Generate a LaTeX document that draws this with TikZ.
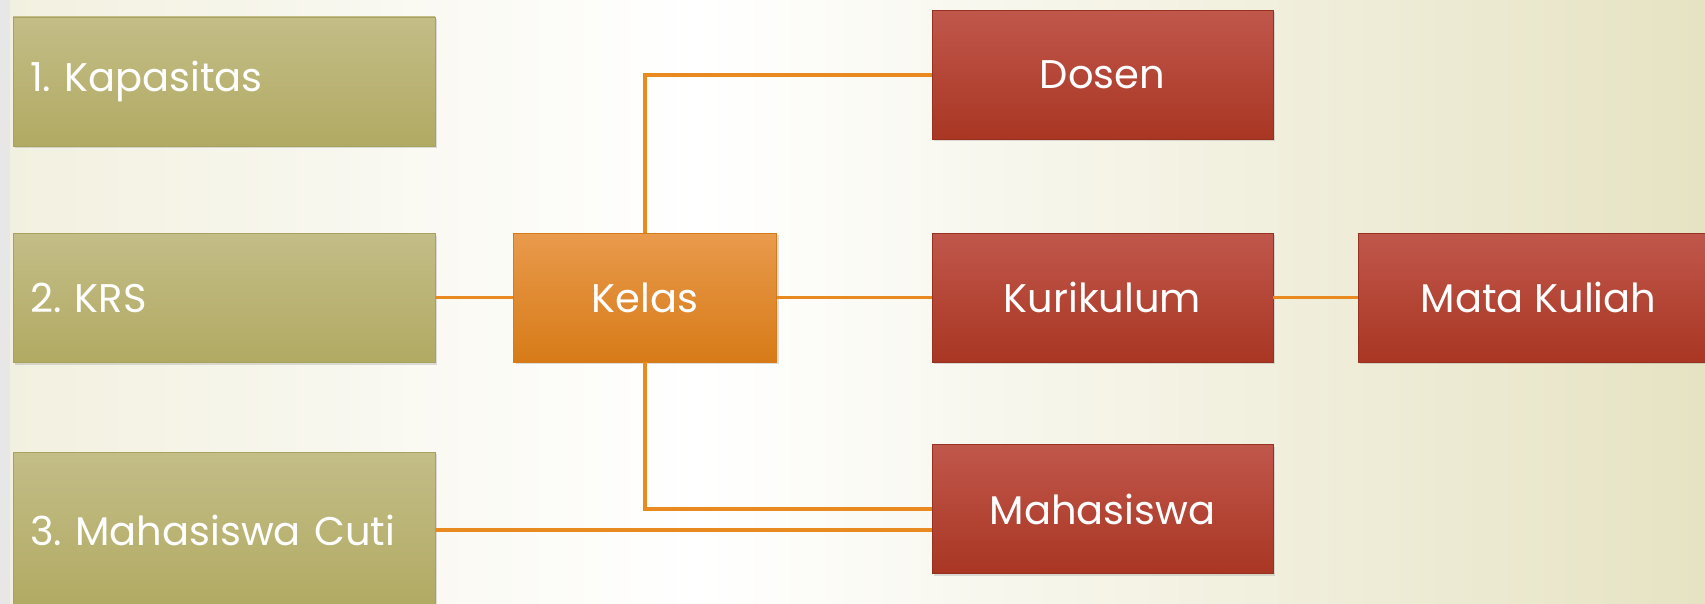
\documentclass[tikz,border=0pt]{standalone}
\usepackage{fontspec}
\setmainfont{Poppins}
\usetikzlibrary{shadows}
\frenchspacing

\definecolor{olivetop}{HTML}{C3BD87}
\definecolor{olivebot}{HTML}{B1AA63}
\definecolor{redtop}{HTML}{C0574B}
\definecolor{redbot}{HTML}{A93623}
\definecolor{orangetop}{HTML}{E99A4C}
\definecolor{orangebot}{HTML}{D77B18}
\definecolor{linkorange}{HTML}{E88A1F}
\definecolor{bgleft}{HTML}{F2F0DF}
\definecolor{bgright}{HTML}{E6E3C3}
\definecolor{edgegray}{HTML}{E8E7E7}

\tikzset{box/.style={rectangle,text=white,font=\fontsize{40}{48}\selectfont,minimum height=129pt,inner ysep=0pt,drop shadow={shadow xshift=2pt,shadow yshift=-2pt,opacity=0.25}}}
\tikzset{olivebox/.style={box,draw=olivebot!95!black,thin,top color=olivetop,bottom color=olivebot,text width=388pt,inner xsep=17pt,align=left}}
\tikzset{redbox/.style={box,draw=redbot!90!black,thin,top color=redtop,bottom color=redbot,minimum width=341pt}}
\tikzset{kelasbox/.style={box,draw=orangebot,thin,top color=orangetop,bottom color=orangebot,minimum width=263pt}}
\tikzset{link/.style={draw=linkorange,line width=3.5pt}}

\begin{document}
\begin{tikzpicture}[x=1pt, y=-1pt]
	\useasboundingbox (0,0) rectangle (1705,604);
	\clip (0,0) rectangle (1705,604);
	\shade [left color=bgleft, right color=white] (0,0) rectangle (700,604);
	\shade [left color=white, right color=bgright] (700,0) rectangle (1705,604);
	\fill [edgegray] (0,0) rectangle (10,604);
	
	\node [olivebox] (kapasitas) at (224,81.5) {1. Kapasitas};
	\node [olivebox] (krs) at (224,298) {2. KRS};
	\node [olivebox, minimum height=156pt] (cuti) at (224,530) {3. Mahasiswa Cuti};
	
	\node [kelasbox] (kelas) at (645,297.5) {Kelas};
	\node [redbox] (dosen) at (1102.5,75) {Dosen};
	\node [redbox] (kurikulum) at (1102.5,297.5) {Kurikulum};
	\node [redbox, minimum width=361pt] (matakuliah) at (1538.5,297.5) {Mata Kuliah};
	\node [redbox] (mahasiswa) at (1102.5,509) {Mahasiswa};
	
	\draw [link] (kelas.north) |- (dosen.west);
	\draw [link] (krs.east |- kelas.west) -- (kelas.west);
	\draw [link] (kelas.east) -- (kurikulum.west);
	\draw [link] (kurikulum.east) -- (matakuliah.west);
	\draw [link] (kelas.south) |- (mahasiswa.west);
	\draw [link] (cuti.east) -- (cuti.east -| mahasiswa.west);
\end{tikzpicture}
\end{document}
